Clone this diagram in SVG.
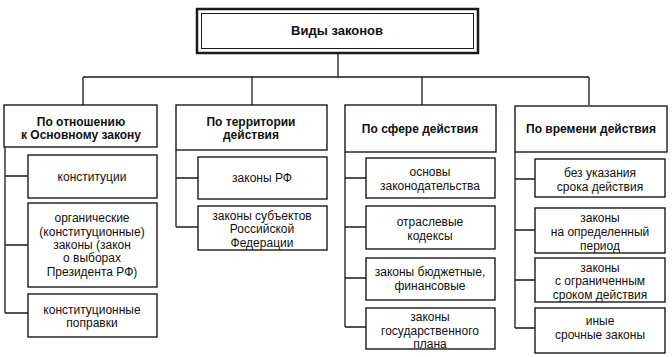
<svg xmlns="http://www.w3.org/2000/svg" width="672" height="357" viewBox="0 0 672 357">
<style>
.b{fill:#fff;stroke:#1a1a1a;stroke-width:1.4}
.c{fill:none;stroke:#1a1a1a;stroke-width:1.3}
text{font-family:"Liberation Sans",Arial,sans-serif;font-size:12px;fill:#111;text-anchor:middle}
.h{font-weight:bold}
.t{font-weight:bold;font-size:13px}
</style>
<rect width="672" height="357" fill="#fff"/>
<g id="connectors" class="c">
<path d="M338 53V77M83 77H589M83 77V105M252 77V105M422 77V105M589 77V105"/>
<path d="M5 147V313M5 176H28M5 245H28M5 313H28"/>
<path d="M176 150V227M176 178H198M176 227H198"/>
<path d="M345 152V327M345 178H366M345 227H366M345 278H366M345 327H366"/>
<path d="M515 152V328M515 179H535M515 230H535M515 280H535M515 328H535"/>
</g>
<g id="root">
<rect x="197" y="9" width="281" height="44" fill="#fff" stroke="#1a1a1a" stroke-width="2.5"/>
<rect x="201.5" y="13.5" width="272" height="35" fill="none" stroke="#1a1a1a" stroke-width="1"/>
<text class="t" x="337" y="35">Виды законов</text>
</g>
<g id="h1"><rect class="b" x="4" y="105" width="153" height="42"/><text class="h" x="81" y="126">По отношению</text><text class="h" x="81" y="139">к Основному закону</text></g>
<g id="h2"><rect class="b" x="176" y="105" width="151" height="45"/><text class="h" x="251" y="126">По территории</text><text class="h" x="251" y="139">действия</text></g>
<g id="h3"><rect class="b" x="345" y="105" width="151" height="47"/><text class="h" x="420" y="133">По сфере действия</text></g>
<g id="h4"><rect class="b" x="515" y="106" width="152" height="46"/><text class="h" x="591" y="133">По времени действия</text></g>

<g id="n11"><rect class="b" x="28" y="155" width="129" height="43"/><text x="92" y="181">конституции</text></g>
<g id="n12"><rect class="b" x="28" y="203" width="129" height="84"/><text x="92" y="222">органические</text><text x="92" y="236">(конституционные)</text><text x="92" y="249">законы (закон</text><text x="92" y="262">о выборах</text><text x="92" y="276">Президента РФ)</text></g>
<g id="n13"><rect class="b" x="28" y="294" width="129" height="43"/><text x="92" y="314">конституционные</text><text x="92" y="327">поправки</text></g>

<g id="n21"><rect class="b" x="198" y="157" width="129" height="42"/><text x="262" y="182">законы РФ</text></g>
<g id="n22"><rect class="b" x="198" y="206" width="129" height="44"/><text x="262" y="220">законы субъектов</text><text x="262" y="233">Российской</text><text x="262" y="247">Федерации</text></g>

<g id="n31"><rect class="b" x="366" y="158" width="129" height="40"/><text x="430" y="176">основы</text><text x="430" y="190">законодательства</text></g>
<g id="n32"><rect class="b" x="366" y="206" width="129" height="43"/><text x="430" y="226">отраслевые</text><text x="430" y="240">кодексы</text></g>
<g id="n33"><rect class="b" x="366" y="258" width="129" height="42"/><text x="430" y="276">законы бюджетные,</text><text x="430" y="290">финансовые</text></g>
<g id="n34"><rect class="b" x="366" y="308" width="129" height="41"/><text x="430" y="321">законы</text><text x="430" y="335">государственного</text><text x="430" y="348">плана</text></g>

<g id="n41"><rect class="b" x="535" y="159" width="130" height="38"/><text x="600" y="177">без указания</text><text x="600" y="191">срока действия</text></g>
<g id="n42"><rect class="b" x="535" y="208" width="130" height="45"/><text x="600" y="222">законы</text><text x="600" y="236">на определенный</text><text x="600" y="250">период</text></g>
<g id="n43"><rect class="b" x="535" y="258" width="130" height="44"/><text x="600" y="272">законы</text><text x="600" y="285">с ограниченным</text><text x="600" y="299">сроком действия</text></g>
<g id="n44"><rect class="b" x="535" y="308" width="130" height="45"/><text x="600" y="325">иные</text><text x="600" y="339">срочные законы</text></g>
</svg>
